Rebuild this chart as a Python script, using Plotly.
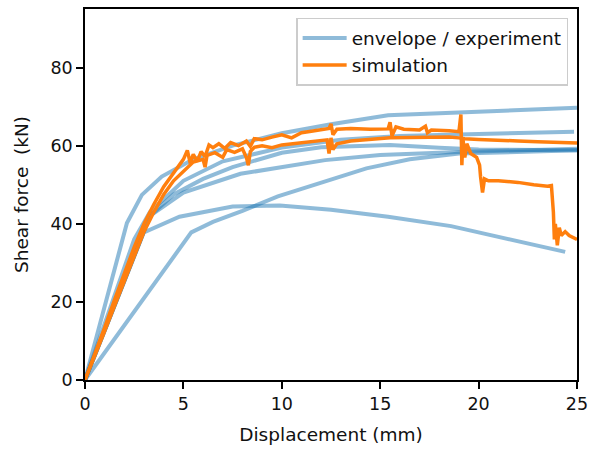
import plotly.graph_objects as go

# ---- experiment envelopes (displacement mm, shear force kN) ----
envA_x = [0, 2.13, 2.89, 3.9, 5.5, 7.5, 10.0, 12.5, 15.4, 25.0]
envA_y = [0, 40.2, 47.4, 52.1, 56.5, 60.0, 63.2, 65.5, 67.8, 69.7]

envB_x = [0, 2.5, 3.3, 5.0, 7.0, 10.0, 13.0, 16.0, 20.0, 24.85]
envB_y = [0, 36.0, 43.0, 51.0, 56.0, 59.5, 61.5, 62.5, 63.0, 63.6]

envC_x = [0, 2.99, 4.8, 7.5, 9.9, 12.5, 15.4, 18.6, 24.4]
envC_y = [0, 37.8, 41.8, 44.4, 44.7, 43.6, 41.8, 39.4, 32.8]

envD_x = [0, 2.6, 3.3, 4.5, 6.0, 7.5, 10.0, 12.0, 15.5, 18.0, 20.0, 25.0]
envD_y = [0, 33.0, 42.0, 47.5, 51.5, 54.5, 58.2, 59.6, 60.2, 59.5, 59.0, 58.8]

envE_x = [0, 3.3, 5.0, 7.9, 12.2, 15.0, 19.0, 25.0]
envE_y = [0, 42.0, 48.0, 52.8, 56.3, 57.6, 58.4, 59.2]

envF_x = [0, 5.4, 6.5, 8.0, 9.8, 12.0, 14.3, 16.5, 19.0, 25.0]
envF_y = [0, 37.8, 40.5, 43.3, 47.0, 50.4, 54.2, 56.5, 58.0, 58.8]

# ---- simulations ----
sim1_x = [0, 0.5, 1, 1.5, 2, 2.5, 3, 3.5, 4, 4.5, 5, 5.2, 5.35, 5.5, 5.7, 5.9, 6.1, 6.3,
          6.5, 6.8, 7.1, 7.4, 7.8, 8.2, 8.4, 8.6, 9, 9.5, 10, 10.5, 11, 11.5, 12, 12.4,
          12.5, 12.6, 12.8, 13.5, 14.5, 15.4, 15.5, 15.6, 15.8, 16.2, 17, 17.3, 17.4,
          17.6, 18.5, 19.0, 19.1, 19.15, 19.2, 19.3, 19.4, 19.6, 19.9, 20.05, 20.1, 20.2,
          20.3, 20.5, 21, 22, 22.8, 23.5, 23.7, 23.8, 23.85, 23.9, 24.0, 24.1, 24.2, 24.4,
          24.6, 25]
sim1_y = [0, 6.5, 13.5, 20.5, 27.5, 34, 40, 45, 49.5, 53, 56.5, 58.8, 55.5, 57.8, 56, 58.5,
          57.2, 60.2, 59.5, 60.5, 59.3, 60.8, 60, 61.2, 59.8, 61.8, 61.5, 62.2, 62.8, 62,
          63.3, 63.7, 64.1, 64.4, 65.6, 62.8, 64.2, 64.4, 64.2, 64.3, 66, 62.5, 64.8,
          64.2, 64, 65, 63.3, 64, 63.8, 63.6, 68, 55, 62, 57, 60.5, 58, 57, 55, 52, 48,
          51.5, 51, 51, 50.6, 50, 49.6, 49.8, 43, 36, 40, 34.5, 39, 37, 38, 37, 36]

sim2_x = [0, 0.5, 1, 1.5, 2, 2.5, 3, 3.5, 4, 4.5, 5, 5.5, 6, 6.1, 6.2, 6.6, 7, 7.2, 7.6,
          8, 8.2, 8.3, 8.4, 8.6, 9, 9.5, 10, 11, 12, 12.3, 12.4, 12.5, 12.6, 12.8, 13.5,
          14.5, 15.5, 16.5, 17.5, 18.5, 19, 19.3, 20, 21, 22, 23, 24, 25]
sim2_y = [0, 6, 12.5, 19, 25.5, 32, 38, 43, 47.5, 51, 53.5, 55.8, 56.5, 54.5, 57.5, 58.2,
          57, 59, 58.3, 59.2, 57, 55, 58.5, 59.6, 60, 59.5, 60.2, 60.8, 61.2, 61.5, 58,
          62, 59, 60.5, 61.2, 61.7, 62, 62.1, 62.2, 62.2, 62, 61.8, 61.6, 61.3, 61.2, 61,
          60.9, 60.7]

x_ticks = [0, 5, 10, 15, 20, 25]
y_ticks = [0, 20, 40, 60, 80]

BLUE = "rgba(31,119,180,0.5)"
ORANGE = "#ff7f0e"

fig = go.Figure()
envs = [(envA_x, envA_y), (envB_x, envB_y), (envC_x, envC_y),
        (envD_x, envD_y), (envE_x, envE_y), (envF_x, envF_y)]
for i, (xs, ys) in enumerate(envs):
    fig.add_trace(go.Scatter(x=xs, y=ys, mode="lines",
                             line=dict(color=BLUE, width=4),
                             name="envelope / experiment", legendgroup="env",
                             showlegend=(i == 0)))
for i, (xs, ys) in enumerate([(sim1_x, sim1_y), (sim2_x, sim2_y)]):
    fig.add_trace(go.Scatter(x=xs, y=ys, mode="lines",
                             line=dict(color=ORANGE, width=3.5),
                             name="simulation", legendgroup="sim",
                             showlegend=(i == 0)))

font_family = "DejaVu Sans"
axis_common = dict(showline=True, mirror=True, linecolor="black", linewidth=1.5,
                   ticks="outside", ticklen=7, tickwidth=1.5, tickcolor="black",
                   showgrid=False, zeroline=False, automargin=False,
                   tickfont=dict(family=font_family, size=17.5, color="#111"))

fig.update_layout(
    width=589, height=451,
    margin=dict(l=85, r=12, t=9, b=71),
    paper_bgcolor="white", plot_bgcolor="white",
    font=dict(family=font_family, color="#111"),
    xaxis=dict(range=[0, 25], tickvals=x_ticks,
               title=dict(text="Displacement (mm)", font=dict(size=18.5), standoff=15),
               **axis_common),
    yaxis=dict(range=[0, 95], tickvals=y_ticks,
               title=dict(text="Shear force  (kN)", font=dict(size=18.5), standoff=17),
               **axis_common),
    legend=dict(x=0.982, y=0.976, xanchor="right", yanchor="top",
                bgcolor="white", bordercolor="#cccccc", borderwidth=1.5,
                font=dict(size=18.5, family=font_family, color="#111"),
                itemwidth=44, tracegroupgap=0),
    showlegend=True,
)

fig.write_html("out.html")
